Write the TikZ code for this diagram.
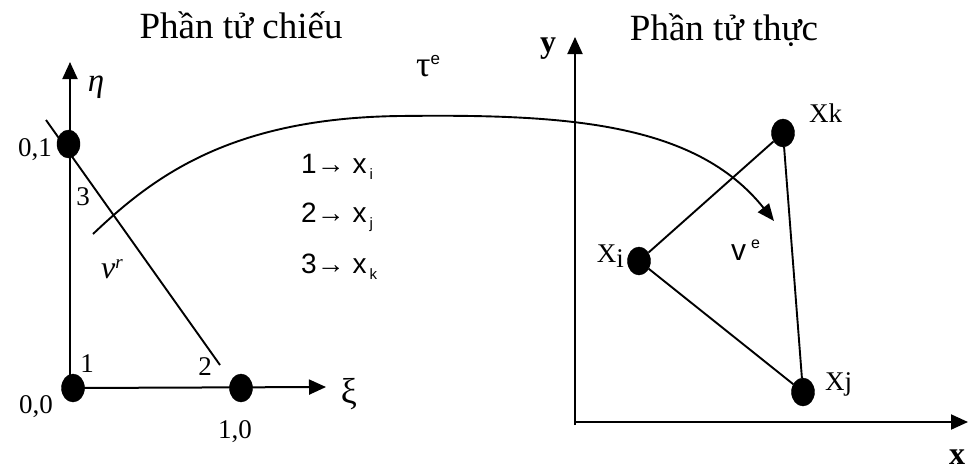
\documentclass[tikz,border=0pt]{standalone}
\usepackage{fontspec}
\setmainfont{Liberation Serif}
\setsansfont{Liberation Sans}
\usetikzlibrary{shapes.geometric,arrows.meta}
\begin{document}
\begin{tikzpicture}[x=1pt,y=-1pt,
  dot/.style={ellipse,fill=black,draw=black,minimum width=23pt,minimum height=28pt,inner sep=0pt},
  ln/.style={line width=1.9pt},
  axis/.style={line width=2pt,-{Triangle[length=17pt,width=15pt]}},
  ser/.style={font=\fontsize{27}{30}\selectfont,inner sep=0pt},
  title/.style={font=\fontsize{37}{40}\selectfont,inner sep=0pt,anchor=base},
  row/.style={font=\sffamily\fontsize{28}{28}\selectfont,inner sep=0pt,anchor=base west},
  sub/.style={font=\sffamily\fontsize{17}{17}\selectfont}
]
\useasboundingbox (0,0) rectangle (968,472);
% coordinates
\coordinate (etafoot) at (70,388);
\coordinate (etatip) at (70,62);
\coordinate (xitip) at (326,387);
\coordinate (d1) at (46,120);
\coordinate (d2) at (220,365);
\coordinate (cs) at (93,234);
\coordinate (cm) at (400,116);
\coordinate (ce) at (774,221);
\coordinate (yfoot) at (575,425);
\coordinate (ytip) at (575,37);
\coordinate (xfoot) at (574,422);
\coordinate (xtip) at (968,422);
% axes
\draw[axis] (etafoot) -- (etatip);
\draw[axis] (yfoot) -- (ytip);
\draw[axis] (xfoot) -- (xtip);
% nodes
\node[dot] (n01) at (68.5,144) {};
\node[dot] (n00) at (73,388) {};
\node[dot] (n10) at (241,388) {};
\node[dot] (xk) at (783,133) {};
\node[dot] (xi) at (639,261) {};
\node[dot] (xj) at (803,392) {};
\draw[axis] (n00.center) -- (xitip);
\draw[ln] (d1) -- (d2);
\draw[ln] (xi) -- (xk);
\draw[ln] (xi) -- (xj);
\draw[ln] (xk) -- (xj);
\draw[ln,-{Triangle[length=17pt,width=14pt]}] (cs) .. controls (153,177) and (230,118) .. (cm) .. controls (565,114) and (695,122) .. (ce);
% texts
\node[title] (t1) at (241,38) {Phần tử chiếu};
\node[title] (t2) at (724,40) {Phần tử thực};
\node[font=\fontsize{33}{33}\selectfont\itshape,inner sep=0pt] (eta) at (96,87) {η};
\node[font=\fontsize{36}{36}\selectfont,inner sep=0pt] (xil) at (349,394) {ξ};
\node[ser,anchor=base east] (l01) at (52,156) {0,1};
\node[ser] (l3) at (83,197) {3};
\node[ser] (l1) at (87,364) {1};
\node[ser] (l2) at (205,367) {2};
\node[ser] (l00) at (36,407) {0,0};
\node[ser] (l10) at (235,432) {1,0};
\node[font=\fontsize{32}{32}\selectfont\itshape,inner sep=0pt,anchor=base west] (vr) at (101,278) {v\raisebox{10pt}{\fontsize{19}{19}\selectfont r}};
\node[font=\fontsize{36}{36}\selectfont,inner sep=0pt,anchor=base west] (tau) at (416,76) {τ\raisebox{12pt}{\sffamily\fontsize{17}{17}\selectfont e}};
\node[row] (r1) at (301,173) {1→ x\raisebox{-6pt}{\hspace{3pt}\fontsize{15}{15}\selectfont i}};
\node[row] (r2) at (301,222) {2→ x\raisebox{-6pt}{\hspace{3pt}\fontsize{15}{15}\selectfont j}};
\node[row] (r3) at (301,273) {3→ x\raisebox{-6pt}{\hspace{3pt}\fontsize{15}{15}\selectfont k}};
\node[font=\bfseries\fontsize{32}{32}\selectfont,inner sep=0pt] (ylab) at (548,49) {y};
\node[font=\bfseries\fontsize{32}{32}\selectfont,inner sep=0pt] (xlab) at (957,457) {x};
\node[ser,anchor=base west] (lk) at (809,122) {Xk};
\node[ser,anchor=base east] (li) at (624,262) {X\raisebox{-5pt}{i}};
\node[ser,anchor=base west] (lj) at (825,390) {Xj};
\node[font=\sffamily\fontsize{30}{30}\selectfont,inner sep=0pt,anchor=base west] (ve) at (731,260) {v\,\raisebox{12pt}{\fontsize{16}{16}\selectfont e}};
\end{tikzpicture}
\end{document}
